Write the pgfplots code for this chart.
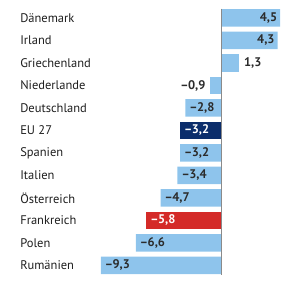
\documentclass[border=0pt]{standalone}
\usepackage{pgfplots}
\pgfplotsset{compat=1.18}
\usepackage{fontspec}
\setmainfont{PT Sans}

\definecolor{barblue}{HTML}{8EC4EC}
\definecolor{eunavy}{HTML}{0B2D6B}
\definecolor{frred}{HTML}{D42A28}
\definecolor{valtext}{HTML}{2B2B2B}
\definecolor{cattext}{HTML}{1E1E1E}
\definecolor{zeroline}{HTML}{8A8A8A}

% value label: en dash as minus, comma as decimal separator
\newcommand\vallabel[1]{%
  \pgfmathfloattofixed{#1}\edef\fixval{\pgfmathresult}%
  \pgfmathtruncatemacro\isneg{(\fixval)<0}%
  \pgfmathsetmacro\absval{abs(\fixval)}%
  \ifnum\isneg=1 \textendash\kern-0.5pt\fi
  \pgfmathprintnumber[fixed,fixed zerofill,precision=1,use comma,assume math mode=true]{\absval}}

\pgfplotsset{
  valbar/.style={xbar, bar shift=0pt, bar width=17.5pt, draw=none, point meta=x,
    nodes near coords={\vallabel{\pgfplotspointmeta}},
    every node near coord/.append style={font=\bfseries\fontsize{12.5}{14}\selectfont, text=valtext}},
}

\begin{document}
\begin{tikzpicture}
\begin{axis}[
  x=13pt, y=22.5pt, y dir=reverse,
  xmin=-17.05, xmax=6.02,
  ymin=-0.8, ymax=12.53,
  axis line style={draw=none},
  xtick=\empty,
  ytick={0,...,11},
  yticklabels={Dänemark,Irland,Griechenland,Niederlande,Deutschland,EU 27,Spanien,Italien,Österreich,Frankreich,Polen,Rumänien},
  major tick length=0pt,
  yticklabel style={anchor=west, xshift=20pt, inner sep=0pt, font=\fontsize{12.5}{14}\selectfont, text=cattext},
  clip=false,
]
% positive bars, value inside the bar end
\addplot[valbar, fill=barblue, nodes near coords style={anchor=east, xshift=0.5pt}]
  coordinates {(4.5,0) (4.3,1)};
% short positive bar, value outside
\addplot[valbar, fill=barblue, nodes near coords style={anchor=west, xshift=2pt}]
  coordinates {(1.3,2)};
% short negative bar, value outside
\addplot[valbar, fill=barblue, nodes near coords style={anchor=east, xshift=-1pt}]
  coordinates {(-0.9,3)};
% negative bars, value inside the bar end
\addplot[valbar, fill=barblue, nodes near coords style={anchor=west, xshift=0.5pt}]
  coordinates {(-2.8,4) (-3.2,6) (-3.4,7) (-4.7,8) (-6.6,10) (-9.3,11)};
% EU average
\addplot[valbar, fill=eunavy, nodes near coords style={anchor=west, xshift=0.5pt, text=white}]
  coordinates {(-3.2,5)};
% France highlighted
\addplot[valbar, fill=frred, nodes near coords style={anchor=west, xshift=0.5pt, text=white}]
  coordinates {(-5.8,9)};
% zero line
\addplot[zeroline, line width=1.6pt] coordinates {(0,-0.42) (0,11.42)};
\end{axis}
\end{tikzpicture}
\end{document}
